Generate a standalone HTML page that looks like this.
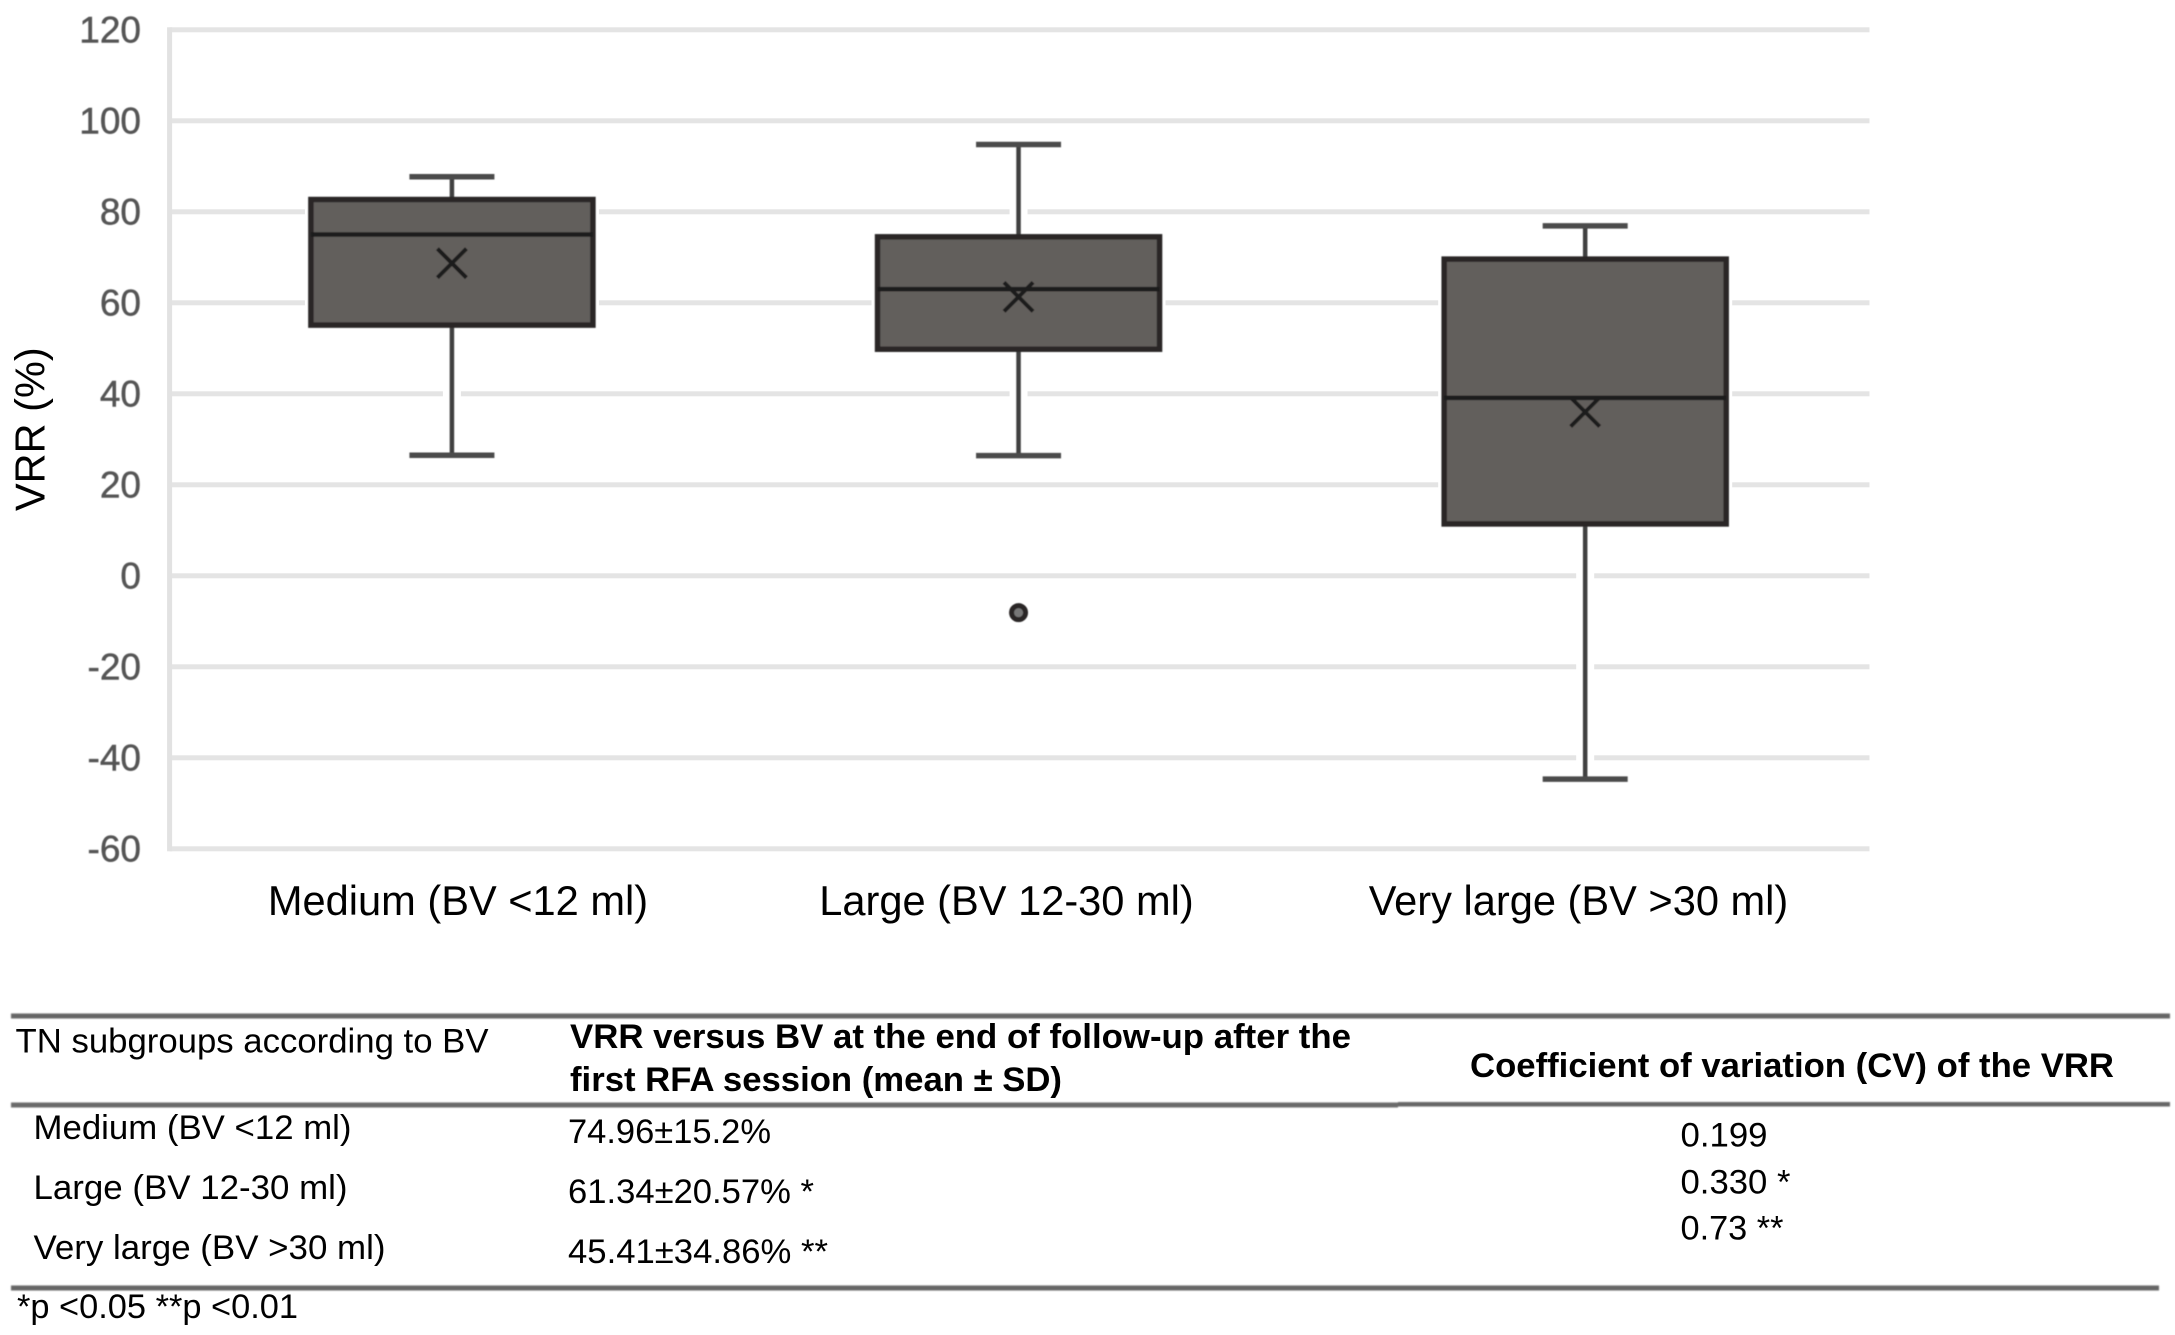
<!DOCTYPE html>
<html lang="en">
<head>
<meta charset="utf-8">
<title>VRR by benign nodule volume</title>
<style>
  html, body { margin: 0; padding: 0; background: #ffffff; }
  svg { display: block; }
  text { font-family: "Liberation Sans", Arial, sans-serif; }
</style>
</head>
<body>
<svg id="figure" xmlns="http://www.w3.org/2000/svg" width="2175" height="1335" viewBox="0 0 2175 1335">
  <defs>
    <filter id="soft" x="-5%" y="-5%" width="110%" height="110%"><feGaussianBlur stdDeviation="0.6"/></filter>
    <filter id="softer" x="-5%" y="-20%" width="110%" height="140%"><feGaussianBlur stdDeviation="0.8"/></filter>
  </defs>
  <rect width="2175" height="1335" fill="#ffffff"/>
  <g id="chart"></g>
  <text transform="translate(44.5 511) rotate(-90)" font-size="41.5" fill="#000000">VRR (%)</text>

  <g>
    <g filter="url(#softer)">
      <rect x="11" y="1013.5" width="2159" height="5" fill="#666666"/>
      <rect x="11" y="1102.5" width="1387" height="5" fill="#6a6a6a"/>
      <rect x="1398" y="1102" width="772" height="4.5" fill="#666666"/>
      <rect x="11" y="1285.5" width="2148" height="5" fill="#666666"/>
    </g>
    <g fill="#000000" font-size="34">
      <text x="15.5" y="1052.5" textLength="473" lengthAdjust="spacingAndGlyphs">TN subgroups according to BV</text>
      <text x="570" y="1048" font-weight="bold" textLength="781" lengthAdjust="spacingAndGlyphs">VRR versus BV at the end of follow-up after the</text>
      <text x="570" y="1091" font-weight="bold" textLength="492" lengthAdjust="spacingAndGlyphs">first RFA session (mean ± SD)</text>
      <text x="1470" y="1077" font-weight="bold" textLength="644" lengthAdjust="spacingAndGlyphs">Coefficient of variation (CV) of the VRR</text>

      <text x="33.5" y="1139" textLength="318" lengthAdjust="spacingAndGlyphs">Medium (BV &lt;12 ml)</text>
      <text x="33.5" y="1199" textLength="314" lengthAdjust="spacingAndGlyphs">Large (BV 12-30 ml)</text>
      <text x="33.5" y="1259" textLength="352" lengthAdjust="spacingAndGlyphs">Very large (BV &gt;30 ml)</text>

      <text x="568" y="1143" textLength="203" lengthAdjust="spacingAndGlyphs">74.96±15.2%</text>
      <text x="568" y="1203" textLength="246" lengthAdjust="spacingAndGlyphs">61.34±20.57% *</text>
      <text x="568" y="1263" textLength="260" lengthAdjust="spacingAndGlyphs">45.41±34.86% **</text>

      <text x="1680.5" y="1146.5" textLength="87" lengthAdjust="spacingAndGlyphs">0.199</text>
      <text x="1680.5" y="1193.5" textLength="110" lengthAdjust="spacingAndGlyphs">0.330 *</text>
      <text x="1680.5" y="1239.5" textLength="103" lengthAdjust="spacingAndGlyphs">0.73 **</text>

      <text x="17" y="1318" textLength="281" lengthAdjust="spacingAndGlyphs">*p &lt;0.05 **p &lt;0.01</text>
    </g>
  </g>
</svg>

<script>
const categories = ['Medium (BV <12 ml)', 'Large (BV 12-30 ml)', 'Very large (BV >30 ml)'];
const whiskerHigh = [87.7, 94.8, 76.9];
const quartile3 = [82.7, 74.5, 69.6];
const medians = [75.0, 63.0, 39.1];
const means = [68.7, 61.3, 36.0];
const quartile1 = [55.1, 49.8, 11.4];
const whiskerLow = [26.5, 26.4, -44.7];
const outliers = [[], [-8.1], []];
const yTicks = [120, 100, 80, 60, 40, 20, 0, -20, -40, -60];

const NS = 'http://www.w3.org/2000/svg';
const plotLeft = 169.6, plotRight = 1869.5;
const yZero = 575.8, yPerUnit = 4.55;
const bandShift = -1;
const labelXs = [458, 1006.5, 1578.5];
const boxHalf = 141, capHalf = 42.5, xHalf = 14.5;

function yScale(v) { return yZero - v * yPerUnit; }
function xScale(i) { return plotLeft + bandShift + (plotRight - plotLeft) * (i + 0.5) / categories.length; }

function make(tag, attrs, parent) {
  const el = document.createElementNS(NS, tag);
  for (const k in attrs) el.setAttribute(k, attrs[k]);
  parent.appendChild(el);
  return el;
}

const chart = document.getElementById('chart');

const gridGroup = make('g', {}, chart);


yTicks.forEach(function (t) {
  const g = make('rect', { x: plotLeft, y: yScale(t) - 2.5, width: plotRight - plotLeft, height: 5, fill: '#e4e4e4' }, gridGroup);
  
  
});

const axisLine = make('rect', { x: plotLeft - 2.5, y: yScale(120) - 2.5, width: 5, height: yScale(-60) - yScale(120) + 5, fill: '#e2e2e2' }, chart);



const tickGroup = make('g', { filter: 'url(#soft)' }, chart);


yTicks.forEach(function (t) {
  const label = make('text', { x: 141, y: yScale(t) + 12.5, 'text-anchor': 'end', 'font-size': 37, fill: '#555555', stroke: '#555555', 'stroke-width': 0.5 }, tickGroup);
  label.textContent = String(t);
  
  
});

categories.forEach(function (name, i) {
  const cx = xScale(i);
  const group = make('g', {}, chart);
  
  

  const halo = make('rect', { x: cx - boxHalf - 6, y: yScale(quartile3[i]) - 6, width: 2 * boxHalf + 12, height: yScale(quartile1[i]) - yScale(quartile3[i]) + 12, fill: '#ffffff' }, group);
  
  

  const wHalo = make('rect', { x: cx - 9, y: yScale(whiskerHigh[i]), width: 18, height: yScale(whiskerLow[i]) - yScale(whiskerHigh[i]), fill: '#ffffff' }, group);
  
  

  const marks = make('g', { filter: 'url(#soft)' }, group);
  
  

  const upper = make('line', { x1: cx, x2: cx, y1: yScale(whiskerHigh[i]), y2: yScale(quartile3[i]), stroke: '#414141', 'stroke-width': 4.5 }, marks);
  
  

  const lower = make('line', { x1: cx, x2: cx, y1: yScale(quartile1[i]), y2: yScale(whiskerLow[i]), stroke: '#414141', 'stroke-width': 4.5 }, marks);
  
  

  const capHigh = make('line', { x1: cx - capHalf, x2: cx + capHalf, y1: yScale(whiskerHigh[i]), y2: yScale(whiskerHigh[i]), stroke: '#4c4c4c', 'stroke-width': 5.5 }, marks);
  
  

  const capLow = make('line', { x1: cx - capHalf, x2: cx + capHalf, y1: yScale(whiskerLow[i]), y2: yScale(whiskerLow[i]), stroke: '#4c4c4c', 'stroke-width': 5.5 }, marks);
  
  

  const box = make('rect', { x: cx - boxHalf, y: yScale(quartile3[i]), width: 2 * boxHalf, height: yScale(quartile1[i]) - yScale(quartile3[i]), fill: '#625e5c', stroke: '#2a2828', 'stroke-width': 5.5 }, marks);
  
  

  const median = make('line', { x1: cx - boxHalf, x2: cx + boxHalf, y1: yScale(medians[i]), y2: yScale(medians[i]), stroke: '#1e1c1c', 'stroke-width': 4.5 }, marks);
  
  

  const my = yScale(means[i]);
  const meanMark = make('path', { d: 'M' + (cx - xHalf) + ' ' + (my - xHalf) + 'L' + (cx + xHalf) + ' ' + (my + xHalf) + 'M' + (cx + xHalf) + ' ' + (my - xHalf) + 'L' + (cx - xHalf) + ' ' + (my + xHalf), fill: 'none', stroke: '#1c1a1a', 'stroke-width': 4 }, marks);
  
  

  outliers[i].forEach(function (v) {
    const dot = make('circle', { cx: cx, cy: yScale(v), r: 7, fill: '#777777', stroke: '#2a2828', 'stroke-width': 5 }, marks);
    
    
  });

  const label = make('text', { x: labelXs[i], y: 915, 'text-anchor': 'middle', 'font-size': 41.6, fill: '#000000' }, group);
  label.textContent = name;
  
  
});
</script>
</body>
</html>
